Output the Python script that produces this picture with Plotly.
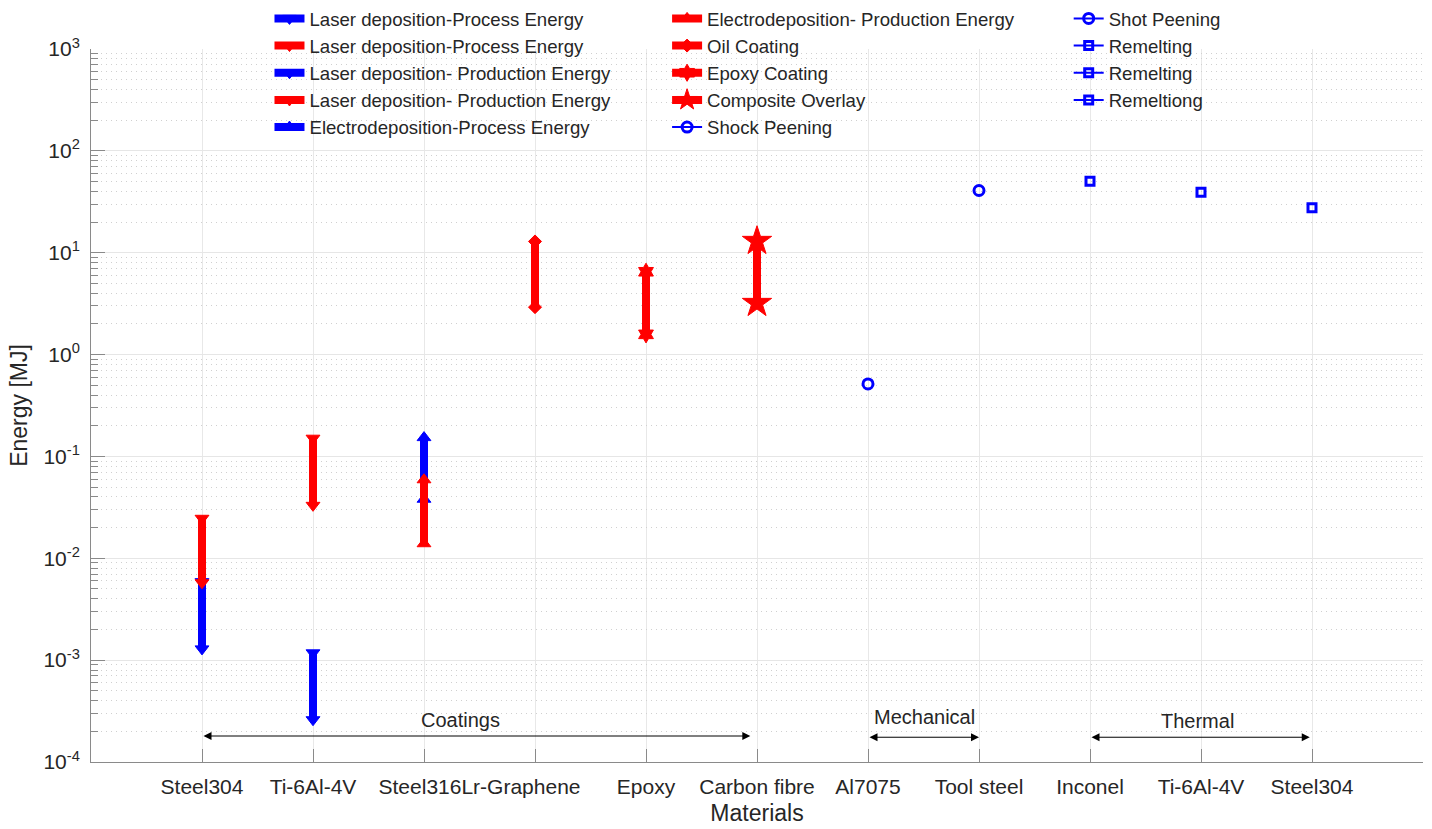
import numpy as np
import plotly.graph_objects as go

# ---------------- data ----------------
x_labels = ["Steel304", "Ti-6Al-4V", "Steel316Lr-Graphene", "Epoxy", "Carbon fibre",
            "Al7075", "Tool steel", "Inconel", "Ti-6Al-4V", "Steel304"]
x_label_pos = [1, 2, 3.5, 5, 6, 7, 8, 9, 10, 11]
x_tick_pos = list(range(1, 12))

series_names = [
    "Laser deposition-Process Energy",
    "Laser deposition-Process Energy",
    "Laser deposition- Production Energy",
    "Laser deposition- Production Energy",
    "Electrodeposition-Process Energy",
    "Electrodeposition- Production Energy",
    "Oil Coating",
    "Epoxy Coating",
    "Composite Overlay",
    "Shock Peening",
    "Shot Peening",
    "Remelting",
    "Remelting",
    "Remeltiong",
]
series_x = [1, 1, 2, 2, 3, 3, 4, 5, 6, 7, 8, 9, 10, 11]
series_y = [
    [0.0059, 0.00129],
    [0.0247, 0.00575],
    [0.00118, 0.00026],
    [0.151, 0.0331],
    [0.153, 0.038],
    [0.059, 0.0139],
    [12.9, 2.92],
    [6.5, 1.58],
    [13.0, 3.2],
    [0.515],
    [40.8],
    [50.4],
    [39.3],
    [27.6],
]

y_tick_vals = [1e-4, 1e-3, 1e-2, 1e-1, 1e0, 1e1, 1e2, 1e3]
y_tick_text = ["10<sup>-4</sup>", "10<sup>-3</sup>", "10<sup>-2</sup>", "10<sup>-1</sup>",
               "10<sup>0</sup>", "10<sup>1</sup>", "10<sup>2</sup>", "10<sup>3</sup>"]

group_labels = ["Coatings", "Mechanical", "Thermal"]

# ---------------- styles ----------------
BLUE = "#0000ff"
RED = "#ff0000"
colors = [BLUE, RED, BLUE, RED, BLUE, RED, RED, RED, RED, BLUE, BLUE, BLUE, BLUE, BLUE]
symbols = ["triangle-down", "triangle-down", "triangle-down", "triangle-down",
           "triangle-up", "triangle-up", "diamond", "hexagram", "star",
           "circle-open", "circle-open", "square-open", "square-open", "square-open"]
msizes = [12, 12, 12, 12, 12, 12, 10, 13, 22, 10, 10, 8, 8, 8]
mlinew = [1, 1, 1, 1, 1, 1, 1, 1, 1, 3, 3, 3, 3, 3]
lwidths = [8, 8, 8, 8, 8, 8, 8, 8, 8, 2, 2, 2, 2, 2]
legend_ids = ["legend"] * 5 + ["legend2"] * 5 + ["legend3"] * 4

FONT = "Liberation Sans, Arial, Helvetica, sans-serif"
AXC = "#8a8a8a"
TXT = "#262626"

fig = go.Figure()
for i, name in enumerate(series_names):
    fig.add_trace(go.Scatter(
        x=[series_x[i]] * len(series_y[i]),
        y=series_y[i],
        mode="lines+markers",
        name=name,
        legend=legend_ids[i],
        line=dict(color=colors[i], width=lwidths[i]),
        marker=dict(symbol=symbols[i], size=msizes[i], color=colors[i],
                    line=dict(color=colors[i], width=mlinew[i])),
        showlegend=True,
    ))

y_minor = [k * 10.0 ** e for e in range(-4, 3) for k in range(2, 10)]

LEG_Y = 1.069
LEG_FONT = 18.6
fig.update_layout(
    width=1432, height=829,
    margin=dict(l=91, r=9, t=49, b=67, autoexpand=False),
    paper_bgcolor="white", plot_bgcolor="white",
    font=dict(family=FONT, color=TXT, size=18),
    xaxis=dict(
        range=[0, 12], tickmode="array", tickvals=x_label_pos, ticktext=x_labels,
        ticks="", showgrid=False, zeroline=False,
        showline=True, linecolor=AXC, linewidth=1,
        tickfont=dict(size=21, color=TXT), ticklabelstandoff=6,
        minor=dict(tickmode="array", tickvals=x_tick_pos, ticks="inside", ticklen=13,
                   tickcolor=AXC, showgrid=True, gridcolor="#e8e8e8", gridwidth=1),
        title=dict(text="Materials", font=dict(size=23, color=TXT), standoff=7),
    ),
    yaxis=dict(
        type="log", range=[-4, 3], tickmode="array", tickvals=y_tick_vals, ticktext=y_tick_text,
        ticks="inside", ticklen=14, tickcolor=AXC, showgrid=True, gridcolor="#e6e6e6",
        zeroline=False, showline=True, linecolor=AXC, linewidth=1,
        tickfont=dict(size=21, color=TXT), ticklabelstandoff=6,
        minor=dict(tickmode="array", tickvals=y_minor, ticks="inside", ticklen=7,
                   tickcolor=AXC, showgrid=True, griddash="1px,4px", gridcolor="#d0d0d0", gridwidth=1),
        title=dict(text="Energy [MJ]", font=dict(size=23, color=TXT), standoff=9),
    ),
    legend=dict(x=0.134, y=LEG_Y, xanchor="left", yanchor="top",
                font=dict(size=LEG_FONT, color=TXT), bgcolor="rgba(0,0,0,0)", itemwidth=30),
    legend2=dict(x=0.4325, y=LEG_Y, xanchor="left", yanchor="top",
                 font=dict(size=LEG_FONT, color=TXT), bgcolor="rgba(0,0,0,0)", itemwidth=30),
    legend3=dict(x=0.734, y=LEG_Y, xanchor="left", yanchor="top",
                 font=dict(size=LEG_FONT, color=TXT), bgcolor="rgba(0,0,0,0)", itemwidth=30),
    showlegend=True,
)

# group arrows (double headed) and labels
arrow_specs = [(1, 5.94, 1.8e-4), (7, 8, 1.75e-4), (9, 10.98, 1.75e-4)]
label_specs = [(3.33, 2.6e-4), (7.51, 2.75e-4), (9.97, 2.55e-4)]
for (x0, x1, yv), (lx, ly), txt in zip(arrow_specs, label_specs, group_labels):
    fig.add_annotation(x=x1, y=np.log10(yv), ax=x0, ay=np.log10(yv),
                       xref="x", yref="y", axref="x", ayref="y", text="",
                       showarrow=True, arrowhead=2, startarrowhead=2, arrowside="end+start",
                       arrowsize=1.6, startarrowsize=1.6, arrowwidth=1, arrowcolor="black")
    fig.add_annotation(x=lx, y=np.log10(ly), xref="x", yref="y", text=txt, showarrow=False,
                       font=dict(size=20, color=TXT, family=FONT))

fig.write_html("out.html")
